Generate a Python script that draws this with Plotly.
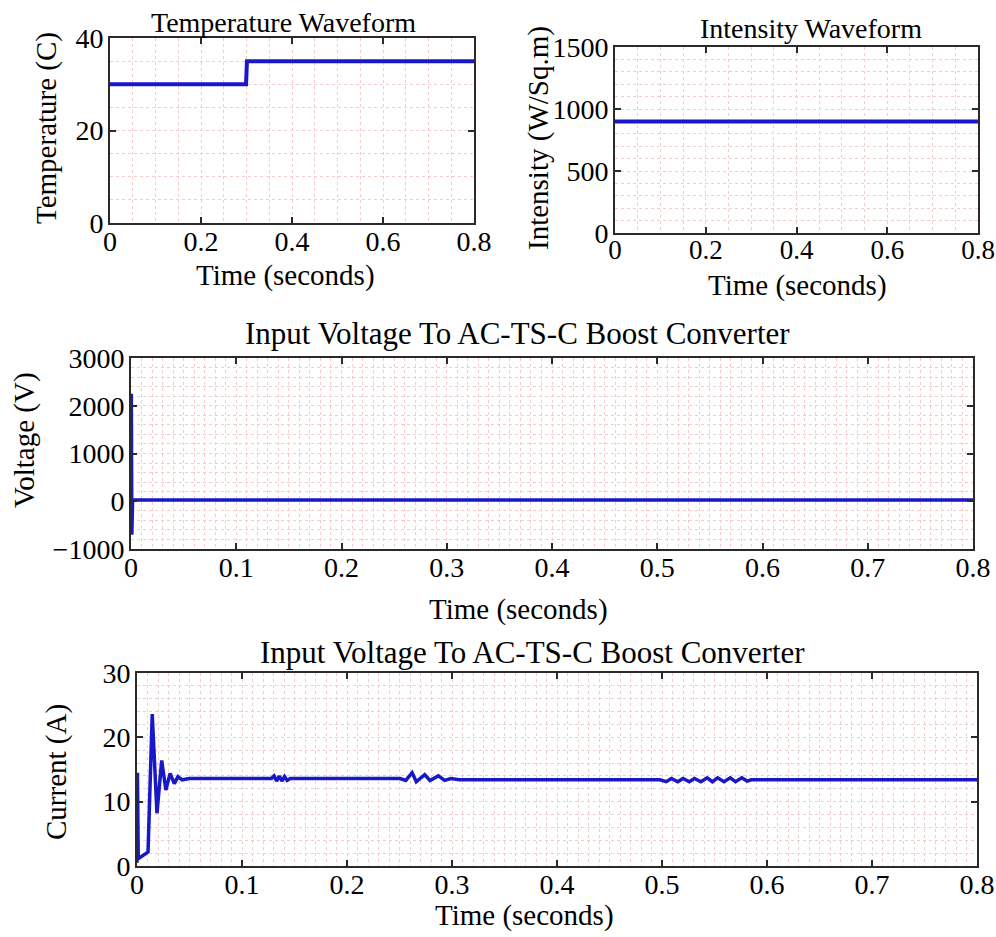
import plotly.graph_objects as go

W, H = 996, 937
FONT = "Liberation Serif"
LINE_BLUE = "#1818c8"
GRID_PINK = "#f3cccc"

# ---- Temperature waveform (step at 0.3 s)
temp_t = [0.0, 0.299, 0.301, 0.8]
temp_c = [30, 30, 35, 35]

# ---- Irradiance waveform
inten_t = [0.0, 0.8]
inten_w = [900, 900]

# ---- Input voltage to the boost converter
volt_t = [0.0, 0.0003, 0.0008, 0.0015, 0.8]
volt_v = [0, 2250, -700, 25, 25]

# ---- Input current to the boost converter
cur_t = [0.0, 0.0004, 0.0012, 0.0018, 0.009, 0.0105, 0.0145, 0.019, 0.0235,
         0.0275, 0.0315, 0.0355, 0.039, 0.043, 0.05,
         0.128, 0.1305, 0.133, 0.1355, 0.138, 0.1405, 0.143, 0.146,
         0.2505, 0.256, 0.262, 0.266, 0.270, 0.274, 0.279, 0.283, 0.287,
         0.293, 0.299, 0.307, 0.312,
         0.498, 0.504, 0.509, 0.515, 0.520, 0.526, 0.531, 0.537, 0.543,
         0.548, 0.553, 0.559, 0.565, 0.570, 0.576, 0.581, 0.585, 0.8]
cur_a = [0.5, 14.5, 1.2, 1.2, 2.0, 2.2, 23.6, 8.2, 16.4,
         11.8, 14.4, 12.8, 13.9, 13.4, 13.6,
         13.6, 14.0, 13.2, 14.0, 13.2, 13.9, 13.3, 13.6,
         13.6, 13.3, 14.5, 13.1, 13.6, 14.2, 13.3, 13.6, 14.0,
         13.3, 13.6, 13.4, 13.4,
         13.4, 13.1, 13.6, 13.1, 13.6, 13.1, 13.6, 13.1, 13.7,
         13.1, 13.7, 13.1, 13.7, 13.1, 13.7, 13.2, 13.4, 13.4]

TITLE_MID = "Input Voltage To AC-TS-C Boost Converter"


def px_x(p):
    return p / W


def px_y(p):
    return 1 - p / H


panels = [
    # (name, x0, x1, top, bottom, t, y, yrange, ydtick, yminor, xdtick, xminor, width, xfont)
    ("1", 110, 474, 38, 223, temp_t, temp_c, [0, 40], 20, 5, 0.2, 0.05, 4, 28),
    ("2", 615, 978, 47, 233, inten_t, inten_w, [0, 1500], 500, 100, 0.2, 0.05, 4, 27),
    ("3", 131, 973, 358, 549, volt_t, volt_v, [-1000, 3000], 1000, 200, 0.1, 0.01, 3.5, 28),
    ("4", 137, 977, 673, 866, cur_t, cur_a, [0, 30], 10, 2, 0.1, 0.01, 3.5, 28),
]

fig = go.Figure()
layout = {}
for name, x0, x1, top, bot, t, y, yr, ydt, ymin, xdt, xmin, lw, xfs in panels:
    suffix = "" if name == "1" else name
    fig.add_trace(go.Scatter(
        x=t, y=y, mode="lines",
        line=dict(color=LINE_BLUE, width=lw),
        xaxis="x" + suffix, yaxis="y" + suffix,
        showlegend=False, hoverinfo="skip",
    ))
    common = dict(
        showline=True, linecolor="#2a2a2a", linewidth=2, mirror="ticks",
        ticks="inside", ticklen=6, tickwidth=2, tickcolor="#2a2a2a",
        showgrid=True, gridcolor=GRID_PINK, griddash="dot", gridwidth=1,
        zeroline=False, automargin=False,
    )
    layout["xaxis" + suffix] = dict(
        common, domain=[px_x(x0), px_x(x1)], range=[0, 0.8], dtick=xdt,
        tick0=0, anchor="y" + suffix, ticklabelstandoff=-8,
        tickfont=dict(family=FONT, size=xfs, color="black"),
        minor=dict(dtick=xmin, showgrid=True, gridcolor=GRID_PINK,
                   griddash="dot", gridwidth=1, ticks=""),
    )
    layout["yaxis" + suffix] = dict(
        common, domain=[px_y(bot), px_y(top)], range=yr, dtick=ydt,
        tick0=yr[0], anchor="x" + suffix, ticklabelstandoff=-1,
        tickfont=dict(family=FONT, size=28, color="black"),
        minor=dict(dtick=ymin, showgrid=True, gridcolor=GRID_PINK,
                   griddash="dot", gridwidth=1, ticks=""),
    )

labels = [
    # (text, cx, cy, size, angle)
    ("Temperature Waveform", 283, 22, 28, 0),
    ("Intensity Waveform", 811, 29, 28, 0),
    (TITLE_MID, 517, 333, 31, 0),
    (TITLE_MID, 532, 652, 31, 0),
    ("Time (seconds)", 285, 275, 29, 0),
    ("Time (seconds)", 797, 285, 29, 0),
    ("Time (seconds)", 518, 609, 29, 0),
    ("Time (seconds)", 524, 915, 29, 0),
    ("Temperature (C)", 47, 128, 29, -90),
    ("Intensity (W/Sq.m)", 538, 138, 29, -90),
    ("Voltage (V)", 25, 440, 29, -90),
    ("Current (A)", 56, 772, 29, -90),
]
annotations = [
    dict(text=txt, x=px_x(cx), y=px_y(cy), xref="paper", yref="paper",
         xanchor="center", yanchor="middle", showarrow=False,
         textangle=ang, font=dict(family=FONT, size=sz, color="black"))
    for txt, cx, cy, sz, ang in labels
]

fig.update_layout(
    width=W, height=H, autosize=False,
    margin=dict(l=0, r=0, t=0, b=0, autoexpand=False),
    paper_bgcolor="white", plot_bgcolor="white",
    annotations=annotations,
    **layout,
)

fig.write_html("out.html")
